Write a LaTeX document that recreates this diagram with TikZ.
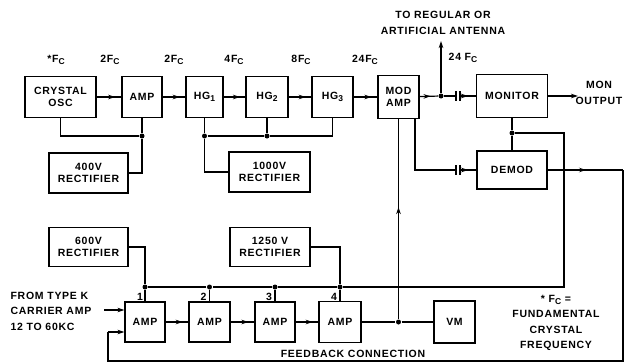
\documentclass[tikz,border=0pt]{standalone}
\usepackage{fontspec}
\setmainfont{Liberation Sans}[LetterSpace=7]
\usetikzlibrary{arrows.meta,decorations.markings}
\newcommand\fsub[1]{\raisebox{-2.5pt}{\fontsize{8.5}{9}\selectfont #1}}

\begin{document}
\begin{tikzpicture}[
	x=1pt, y=-1pt,
	line width=1.2pt,
	font=\fontsize{10.5}{12.5}\selectfont\bfseries,
	block/.style={ draw, rectangle, align=center, inner sep=1pt, minimum height=41pt },
	junc/.style={ circle, fill, inner sep=0pt, minimum size=5pt },
	flow/.style={ postaction={decorate}, decoration={markings, mark=at position #1 with {\arrow{Stealth[length=7pt,width=4.5pt]}}} },
	flow/.default=0.75,
	tip/.style={ -{Stealth[length=7pt,width=4.5pt]} },
	txt/.style={ inner sep=0pt, align=center, font=\fontsize{10.5}{15.5}\selectfont\bfseries }
]
\useasboundingbox (0,0) rectangle (625,364);

\node at (60.5,97) (osc) [block,minimum width=71pt] {CRYSTAL\\OSC};
\node at (142,97) (amp0) [block,minimum width=40pt] {AMP};
\node at (204.5,97) (hg1) [block,minimum width=37pt] {HG\fsub{1}};
\node at (267,97) (hg2) [block,minimum width=42pt] {HG\fsub{2}};
\node at (332.5,97) (hg3) [block,minimum width=41pt] {HG\fsub{3}};
\node at (398.5,97) (mod) [block,minimum width=41pt,minimum height=43pt] {MOD\\AMP};
\node at (512,96) (mon) [block,minimum width=71pt,minimum height=43pt] {MONITOR};
\node at (512,170) (demod) [block,minimum width=70pt,minimum height=38pt] {DEMOD};

\node at (88.5,173) (r400) [block,minimum width=79pt,minimum height=40pt] {400V\\RECTIFIER};
\node at (269.5,172) (r1000) [block,minimum width=81pt,minimum height=40pt] {1000V\\RECTIFIER};
\node at (88.5,247) (r600) [block,minimum width=79pt,minimum height=39pt] {600V\\RECTIFIER};
\node at (270,247) (r1250) [block,minimum width=80pt,minimum height=39pt] {1250 V\\RECTIFIER};

\node at (145,322) (a1) [block,minimum width=40pt,minimum height=40pt,label={[inner sep=0pt,xshift=-5pt]north:1}] {AMP};
\node at (209.5,322) (a2) [block,minimum width=41pt,minimum height=40pt,label={[inner sep=0pt,xshift=-6pt]north:2}] {AMP};
\node at (275,322) (a3) [block,minimum width=40pt,minimum height=40pt,label={[inner sep=0pt,xshift=-6pt]north:3}] {AMP};
\node at (340,322) (a4) [block,minimum width=42pt,minimum height=41pt,label={[inner sep=0pt,xshift=-6pt]north:4}] {AMP};
\node at (454.5,322) (vm) [block,minimum width=41pt,minimum height=42pt] {VM};

\node at (142,136) (d1) [junc] {};
\node at (204.5,136) (d2) [junc] {};
\node at (267,136) (d3) [junc] {};
\coordinate (d3r) at (332.5,136);
\node at (441,96) (j1) [junc] {};
\coordinate (ant) at (441,41);
\coordinate (monout) at (578,96);
\node at (512,133) (d4) [junc] {};
\coordinate (d4r) at (564,133);
\node at (145,287) (b1) [junc] {};
\node at (209.5,287) (b2) [junc] {};
\node at (275,287) (b3) [junc] {};
\node at (340,287) (b4) [junc] {};
\coordinate (b5) at (564,287);
\node at (398.5,322) (j2) [junc] {};
\coordinate (modr) at (415,118.5);
\coordinate (ca1) at (456,96);
\coordinate (cb1) at (460,96);
\coordinate (ca2) at (456,170);
\coordinate (cb2) at (460,170);
\coordinate (fb1) at (623,170);
\coordinate (fb2) at (623,361);
\coordinate (fb3) at (108,361);
\coordinate (fb4) at (108,332);
\coordinate (in) at (104,310);

\draw[flow] (osc) -- (amp0);
\draw[flow] (amp0) -- (hg1);
\draw[flow] (hg1) -- (hg2);
\draw[flow] (hg2) -- (hg3);
\draw[flow] (hg3) -- (mod);
\draw[flow=0.6] (mod) -- (j1);
\draw[tip] (j1) -- (ant);
\draw (j1) -- (ca1);
\draw ([yshift=5pt]ca1) -- ([yshift=-5pt]ca1);
\draw ([yshift=5pt]cb1) -- ([yshift=-5pt]cb1);
\draw[flow=0.5] (cb1) -- (mon);
\draw[tip] (mon) -- (monout);

\draw (osc.south) |- (d1);
\draw (amp0) -- (d1) |- (r400);
\draw (hg1) -- (d2) |- (r1000);
\draw (hg2) -- (d3);
\draw (d2) -- (d3) -- (d3r) -- (hg3);

\draw[flow=0.56] (j2) -- (mod.south);
\draw (modr) |- (ca2);
\draw ([yshift=5pt]ca2) -- ([yshift=-5pt]ca2);
\draw ([yshift=5pt]cb2) -- ([yshift=-5pt]cb2);
\draw[flow=0.5] (cb2) -- (demod);

\draw (mon) -- (d4) -- (demod);
\draw (d4) -- (d4r) -- (b5) -- (b4) -- (b3) -- (b2) -- (b1);
\draw (r600) -| (b1);
\draw (r1250) -| (b4);
\draw (b1) -- (a1);
\draw (b2) -- (a2);
\draw (b3) -- (a3);
\draw (b4) -- (a4);

\draw[flow] (a1) -- (a2);
\draw[flow] (a2) -- (a3);
\draw[flow] (a3) -- (a4);
\draw (a4) -- (j2) -- (vm);

\draw[flow=0.51] (demod) -- (fb1);
\draw (fb1) -- (fb2) -- (fb3) -- (fb4);
\draw[tip] (fb4) -- (fb4 -| a1.west);
\draw[tip] (in) -- (in -| a1.west);

\node at (56,60) (f0) [txt] {*F\fsub{C}};
\node at (110,60) (f1) [txt] {2F\fsub{C}};
\node at (174,60) (f2) [txt] {2F\fsub{C}};
\node at (234,60) (f3) [txt] {4F\fsub{C}};
\node at (301,60) (f4) [txt] {8F\fsub{C}};
\node at (365,60) (f5) [txt] {24F\fsub{C}};
\node at (463,58) (f6) [txt] {24 F\fsub{C}};
\node at (443,23) (anttxt) [txt] {TO REGULAR OR\\ARTIFICIAL ANTENNA};
\node at (599,93) (montxt) [txt] {MON\\OUTPUT};
\node at (10,311) (intxt) [txt,anchor=west,align=left] {FROM TYPE K\\CARRIER AMP\\12 TO 60KC};
\node at (556,323) (note) [txt] {* F\fsub{C} =\\FUNDAMENTAL\\CRYSTAL\\FREQUENCY};
\node at (353,354) (fbtxt) [txt] {FEEDBACK CONNECTION};

\end{tikzpicture}
\end{document}
